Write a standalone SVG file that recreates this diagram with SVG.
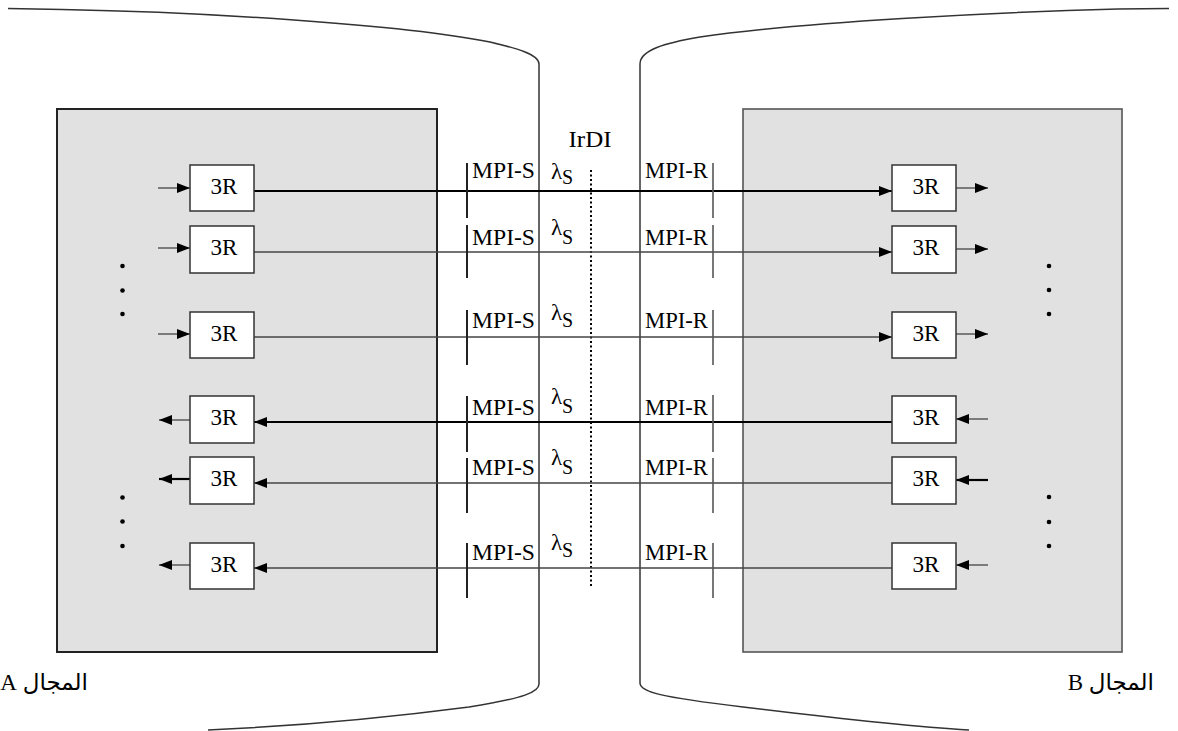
<svg xmlns="http://www.w3.org/2000/svg" width="1178" height="731" viewBox="0 0 1178 731">
<style>
  .t { font-family: "Liberation Serif", "DejaVu Serif", serif; font-size: 23px; fill: #000; }
  .sub { font-family: "Liberation Serif", "DejaVu Serif", serif; font-size: 20px; fill: #000; }
  .ar { font-family: "Liberation Serif", "DejaVu Sans", "Noto Sans", serif; font-size: 23px; fill: #000; }
  .box { fill: #ffffff; stroke: #333; stroke-width: 1.5; }
  .dom { fill: #e1e1e1; stroke: #222; stroke-width: 2; }
  .edge { fill: none; stroke: #333; stroke-width: 1.5; }
  .thick { stroke: #000; stroke-width: 2.2; fill: none; }
  .thin { stroke: #444; stroke-width: 1.3; fill: none; }
  .tick { stroke: #222; stroke-width: 2; }
  .tickr { stroke: #555; stroke-width: 1.6; }
  .dot { fill: #000; }
</style>
<defs>
  <marker id="ah" markerUnits="userSpaceOnUse" markerWidth="13" markerHeight="11" refX="13" refY="5.5" orient="auto">
    <path d="M0,0.5 L13,5.5 L0,10.5 z" fill="#000"/>
  </marker>
</defs>

<!-- network outlines -->
<g id="outline-left">
  <path class="edge" d="M8,8.5 L62,9.5 C200,12 400,24 490,42 C515,48 539,54 539,64 V684 C539,692 525,698 469,707 C400,716 300,726 208,730"/>
</g>
<g id="outline-right">
  <path class="edge" d="M1169,8.5 L1118,9 C1000,12 800,22 700,37 C665,43 640,50 640,64 V683 C640,692 660,697 743,707 C800,714 900,726 969,730"/>
</g>

<!-- domains -->
<g id="domain-a">
  <rect class="dom" x="57" y="109" width="380" height="543"/>
  <text class="ar" x="88" y="690" direction="rtl" text-anchor="start">المجال A</text>
</g>
<g id="domain-b">
  <rect class="dom" x="743" y="109" width="379" height="543" style="stroke:#555;stroke-width:1.6"/>
  <text class="ar" x="1154" y="690" direction="rtl" text-anchor="start">المجال B</text>
</g>

<!-- IrDI -->
<g id="irdi">
  <line x1="591" y1="170" x2="591" y2="586" stroke="#000" stroke-width="2" stroke-dasharray="2 2.5"/>
  <text class="t" x="590" y="147" text-anchor="middle" textLength="43" lengthAdjust="spacingAndGlyphs">IrDI</text>
</g>

<!-- connectors -->
<g id="connectors">
  <!-- row 1 -->
  <line class="thin" x1="158" y1="188" x2="190" y2="188" marker-end="url(#ah)"/>
  <line class="thick" x1="254" y1="191" x2="892" y2="191" marker-end="url(#ah)"/>
  <line class="thin" x1="956" y1="188" x2="988" y2="188" marker-end="url(#ah)"/>
  <!-- row 2 -->
  <line class="thin" x1="158" y1="248" x2="190" y2="248" marker-end="url(#ah)"/>
  <line class="thin" x1="254" y1="252" x2="892" y2="252" marker-end="url(#ah)"/>
  <line class="thin" x1="956" y1="249" x2="988" y2="249" marker-end="url(#ah)"/>
  <!-- row 3 -->
  <line class="thin" x1="158" y1="334" x2="190" y2="334" marker-end="url(#ah)"/>
  <line class="thin" x1="254" y1="337" x2="892" y2="337" marker-end="url(#ah)"/>
  <line class="thin" x1="956" y1="334" x2="988" y2="334" marker-end="url(#ah)"/>
  <!-- row 4 -->
  <line class="thin" x1="190" y1="420" x2="159" y2="420" marker-end="url(#ah)"/>
  <line class="thick" x1="892" y1="422" x2="254" y2="422" marker-end="url(#ah)"/>
  <line class="thin" x1="988" y1="419" x2="956" y2="419" marker-end="url(#ah)"/>
  <!-- row 5 -->
  <line class="thick" x1="190" y1="479" x2="159" y2="479" marker-end="url(#ah)"/>
  <line class="thin" x1="892" y1="483" x2="254" y2="483" marker-end="url(#ah)"/>
  <line class="thick" x1="988" y1="480" x2="956" y2="480" marker-end="url(#ah)"/>
  <!-- row 6 -->
  <line class="thin" x1="190" y1="565" x2="159" y2="565" marker-end="url(#ah)"/>
  <line class="thin" x1="892" y1="568" x2="254" y2="568" marker-end="url(#ah)"/>
  <line class="thin" x1="988" y1="565" x2="956" y2="565" marker-end="url(#ah)"/>
</g>

<!-- MPI ticks and labels -->
<g id="mpi">
  <line class="tick" x1="467" y1="163" x2="467" y2="218"/>
  <line class="tickr" x1="713" y1="163" x2="713" y2="218"/>
  <text class="t" x="472" y="178" textLength="63" lengthAdjust="spacingAndGlyphs">MPI-S</text>
  <text class="t" x="645" y="178" textLength="63" lengthAdjust="spacingAndGlyphs">MPI-R</text>
  <text class="t" x="551" y="179">λ</text><text class="sub" x="562" y="184">S</text>

  <line class="tick" x1="467" y1="225" x2="467" y2="278"/>
  <line class="tickr" x1="713" y1="225" x2="713" y2="278"/>
  <text class="t" x="472" y="245" textLength="63" lengthAdjust="spacingAndGlyphs">MPI-S</text>
  <text class="t" x="645" y="245" textLength="63" lengthAdjust="spacingAndGlyphs">MPI-R</text>
  <text class="t" x="551" y="235">λ</text><text class="sub" x="562" y="244">S</text>

  <line class="tick" x1="467" y1="310" x2="467" y2="365"/>
  <line class="tickr" x1="713" y1="310" x2="713" y2="365"/>
  <text class="t" x="472" y="328" textLength="63" lengthAdjust="spacingAndGlyphs">MPI-S</text>
  <text class="t" x="645" y="328" textLength="63" lengthAdjust="spacingAndGlyphs">MPI-R</text>
  <text class="t" x="551" y="320">λ</text><text class="sub" x="562" y="327">S</text>

  <line class="tick" x1="467" y1="396" x2="467" y2="452"/>
  <line class="tickr" x1="713" y1="395" x2="713" y2="452"/>
  <text class="t" x="472" y="415" textLength="63" lengthAdjust="spacingAndGlyphs">MPI-S</text>
  <text class="t" x="645" y="415" textLength="63" lengthAdjust="spacingAndGlyphs">MPI-R</text>
  <text class="t" x="551" y="404">λ</text><text class="sub" x="562" y="413">S</text>

  <line class="tick" x1="467" y1="458" x2="467" y2="513"/>
  <line class="tickr" x1="713" y1="458" x2="713" y2="513"/>
  <text class="t" x="472" y="475" textLength="63" lengthAdjust="spacingAndGlyphs">MPI-S</text>
  <text class="t" x="645" y="475" textLength="63" lengthAdjust="spacingAndGlyphs">MPI-R</text>
  <text class="t" x="551" y="465">λ</text><text class="sub" x="562" y="474">S</text>

  <line class="tick" x1="467" y1="543" x2="467" y2="598"/>
  <line class="tickr" x1="713" y1="543" x2="713" y2="598"/>
  <text class="t" x="472" y="560" textLength="63" lengthAdjust="spacingAndGlyphs">MPI-S</text>
  <text class="t" x="645" y="560" textLength="63" lengthAdjust="spacingAndGlyphs">MPI-R</text>
  <text class="t" x="551" y="550">λ</text><text class="sub" x="562" y="557">S</text>
</g>

<!-- 3R regenerators -->
<g id="a-3r-1"><rect class="box" x="190" y="165" width="64" height="46"/><text class="t" x="224" y="194" text-anchor="middle" textLength="27" lengthAdjust="spacingAndGlyphs">3R</text></g>
<g id="a-3r-2"><rect class="box" x="190" y="226" width="64" height="47"/><text class="t" x="224" y="255" text-anchor="middle" textLength="27" lengthAdjust="spacingAndGlyphs">3R</text></g>
<g id="a-3r-3"><rect class="box" x="190" y="312" width="64" height="46"/><text class="t" x="224" y="341" text-anchor="middle" textLength="27" lengthAdjust="spacingAndGlyphs">3R</text></g>
<g id="a-3r-4"><rect class="box" x="190" y="396" width="64" height="47"/><text class="t" x="224" y="425" text-anchor="middle" textLength="27" lengthAdjust="spacingAndGlyphs">3R</text></g>
<g id="a-3r-5"><rect class="box" x="190" y="457" width="64" height="47"/><text class="t" x="224" y="486" text-anchor="middle" textLength="27" lengthAdjust="spacingAndGlyphs">3R</text></g>
<g id="a-3r-6"><rect class="box" x="190" y="543" width="64" height="46"/><text class="t" x="224" y="572" text-anchor="middle" textLength="27" lengthAdjust="spacingAndGlyphs">3R</text></g>

<g id="b-3r-1"><rect class="box" x="892" y="165" width="64" height="46"/><text class="t" x="926" y="194" text-anchor="middle" textLength="27" lengthAdjust="spacingAndGlyphs">3R</text></g>
<g id="b-3r-2"><rect class="box" x="892" y="226" width="64" height="47"/><text class="t" x="926" y="255" text-anchor="middle" textLength="27" lengthAdjust="spacingAndGlyphs">3R</text></g>
<g id="b-3r-3"><rect class="box" x="892" y="312" width="64" height="46"/><text class="t" x="926" y="341" text-anchor="middle" textLength="27" lengthAdjust="spacingAndGlyphs">3R</text></g>
<g id="b-3r-4"><rect class="box" x="892" y="396" width="64" height="47"/><text class="t" x="926" y="425" text-anchor="middle" textLength="27" lengthAdjust="spacingAndGlyphs">3R</text></g>
<g id="b-3r-5"><rect class="box" x="892" y="457" width="64" height="47"/><text class="t" x="926" y="486" text-anchor="middle" textLength="27" lengthAdjust="spacingAndGlyphs">3R</text></g>
<g id="b-3r-6"><rect class="box" x="892" y="543" width="64" height="46"/><text class="t" x="926" y="572" text-anchor="middle" textLength="27" lengthAdjust="spacingAndGlyphs">3R</text></g>

<!-- ellipsis dots -->
<g id="dots">
  <circle class="dot" cx="122.5" cy="266" r="2.3"/>
  <circle class="dot" cx="122.5" cy="290.5" r="2.3"/>
  <circle class="dot" cx="122.5" cy="314" r="2.3"/>
  <circle class="dot" cx="122.5" cy="497.5" r="2.3"/>
  <circle class="dot" cx="122.5" cy="521.5" r="2.3"/>
  <circle class="dot" cx="122.5" cy="546" r="2.3"/>
  <circle class="dot" cx="1049" cy="266" r="2.3"/>
  <circle class="dot" cx="1049" cy="290" r="2.3"/>
  <circle class="dot" cx="1049" cy="314" r="2.3"/>
  <circle class="dot" cx="1049" cy="497" r="2.3"/>
  <circle class="dot" cx="1049" cy="522" r="2.3"/>
  <circle class="dot" cx="1049" cy="546" r="2.3"/>
</g>
</svg>
